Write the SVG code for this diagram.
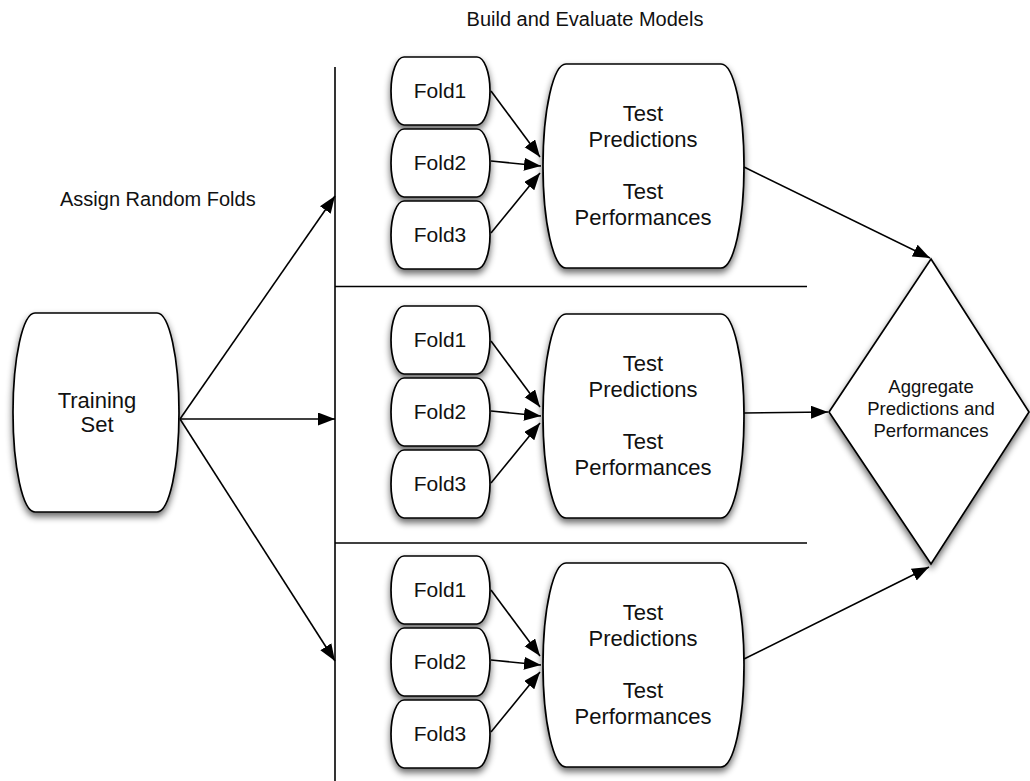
<svg xmlns="http://www.w3.org/2000/svg" width="1030" height="781" viewBox="0 0 1030 781">
  <defs>
    <filter id="sh" x="-20%" y="-20%" width="140%" height="140%">
      <feGaussianBlur in="SourceAlpha" stdDeviation="3.5"/>
      <feOffset dx="0" dy="4" result="b"/>
      <feComponentTransfer><feFuncA type="linear" slope="0.6"/></feComponentTransfer>
      <feMerge><feMergeNode/><feMergeNode in="SourceGraphic"/></feMerge>
    </filter>
    <marker id="ah" markerUnits="userSpaceOnUse" markerWidth="18" markerHeight="14" refX="17" refY="6.5" orient="auto">
      <path d="M0,0 L17,6.5 L0,13 Z" fill="#000"/>
    </marker>
    <style>
      .n { fill: #fff; stroke: #000; stroke-width: 1.7; filter: url(#sh); }
      .t { font-family: "Liberation Sans", Arial, Helvetica, sans-serif; fill: #111; text-anchor: middle; }
      .f { font-size: 21px; }
      .big { font-size: 22px; }
      .dm { font-size: 18.5px; }
      .lbl { font-family: "Liberation Sans", Arial, Helvetica, sans-serif; fill: #111; font-size: 20px; }
      .c { stroke: #000; stroke-width: 1.6; fill: none; marker-end: url(#ah); }
      .sep { stroke: #000; stroke-width: 1.6; fill: none; }
    </style>
  </defs>
  <rect width="1030" height="781" fill="#fff"/>

  <text class="lbl" x="585" y="26" text-anchor="middle">Build and Evaluate Models</text>
  <text class="lbl" x="60" y="206">Assign Random Folds</text>

  <g id="separators">
    <line class="sep" x1="335" y1="67" x2="335" y2="781"/>
    <line class="sep" x1="335" y1="286.5" x2="807" y2="286.5"/>
    <line class="sep" x1="335" y1="543" x2="807" y2="543"/>
  </g>

  <g id="training-set">
    <path class="n" d="M35,313 H157 A22,99.5 0 0 1 157,512 H35 A22,99.5 0 0 1 35,313 Z"/>
    <text class="t big" x="97" y="408">Training</text>
    <text class="t big" x="97" y="432">Set</text>
  </g>

  <!-- Group 1 -->
  <g id="g1-fold1">
    <path class="n" d="M404,57 H477 A13,34 0 0 1 477,125 H404 A13,34 0 0 1 404,57 Z"/>
    <text class="t f" x="440" y="98">Fold1</text>
  </g>
  <g id="g1-fold2">
    <path class="n" d="M404,129 H477 A13,34 0 0 1 477,197 H404 A13,34 0 0 1 404,129 Z"/>
    <text class="t f" x="440" y="170">Fold2</text>
  </g>
  <g id="g1-fold3">
    <path class="n" d="M404,201 H477 A13,34 0 0 1 477,269 H404 A13,34 0 0 1 404,201 Z"/>
    <text class="t f" x="440" y="242">Fold3</text>
  </g>
  <g id="g1-test">
    <path class="n" d="M566,64 H721 A23,102 0 0 1 721,268 H566 A23,102 0 0 1 566,64 Z"/>
    <text class="t big" x="643" y="121">Test</text>
    <text class="t big" x="643" y="147">Predictions</text>
    <text class="t big" x="643" y="199">Test</text>
    <text class="t big" x="643" y="225">Performances</text>
  </g>

  <!-- Group 2 -->
  <g id="g2-fold1">
    <path class="n" d="M404,306 H477 A13,34 0 0 1 477,374 H404 A13,34 0 0 1 404,306 Z"/>
    <text class="t f" x="440" y="347">Fold1</text>
  </g>
  <g id="g2-fold2">
    <path class="n" d="M404,378 H477 A13,34 0 0 1 477,446 H404 A13,34 0 0 1 404,378 Z"/>
    <text class="t f" x="440" y="419">Fold2</text>
  </g>
  <g id="g2-fold3">
    <path class="n" d="M404,450 H477 A13,34 0 0 1 477,518 H404 A13,34 0 0 1 404,450 Z"/>
    <text class="t f" x="440" y="491">Fold3</text>
  </g>
  <g id="g2-test">
    <path class="n" d="M566,314 H721 A23,102 0 0 1 721,518 H566 A23,102 0 0 1 566,314 Z"/>
    <text class="t big" x="643" y="371">Test</text>
    <text class="t big" x="643" y="397">Predictions</text>
    <text class="t big" x="643" y="449">Test</text>
    <text class="t big" x="643" y="475">Performances</text>
  </g>

  <!-- Group 3 -->
  <g id="g3-fold1">
    <path class="n" d="M404,556 H477 A13,34 0 0 1 477,624 H404 A13,34 0 0 1 404,556 Z"/>
    <text class="t f" x="440" y="597">Fold1</text>
  </g>
  <g id="g3-fold2">
    <path class="n" d="M404,628 H477 A13,34 0 0 1 477,696 H404 A13,34 0 0 1 404,628 Z"/>
    <text class="t f" x="440" y="669">Fold2</text>
  </g>
  <g id="g3-fold3">
    <path class="n" d="M404,700 H477 A13,34 0 0 1 477,768 H404 A13,34 0 0 1 404,700 Z"/>
    <text class="t f" x="440" y="741">Fold3</text>
  </g>
  <g id="g3-test">
    <path class="n" d="M566,563 H721 A23,102 0 0 1 721,767 H566 A23,102 0 0 1 566,563 Z"/>
    <text class="t big" x="643" y="620">Test</text>
    <text class="t big" x="643" y="646">Predictions</text>
    <text class="t big" x="643" y="698">Test</text>
    <text class="t big" x="643" y="724">Performances</text>
  </g>

  <g id="aggregate">
    <path class="n" d="M931,259 L1029,412 L931,564 L829,412 Z"/>
    <text class="t dm" x="931" y="393">Aggregate</text>
    <text class="t dm" x="931" y="415">Predictions and</text>
    <text class="t dm" x="931" y="437">Performances</text>
  </g>

  <g id="connectors">
    <line class="c" x1="180" y1="419" x2="335" y2="196"/>
    <line class="c" x1="180" y1="419" x2="335" y2="419"/>
    <line class="c" x1="180" y1="419" x2="335" y2="661"/>

    <line class="c" x1="491" y1="91" x2="540" y2="157"/>
    <line class="c" x1="491" y1="161" x2="541" y2="166"/>
    <line class="c" x1="491" y1="233" x2="540" y2="173"/>

    <line class="c" x1="491" y1="341" x2="540" y2="407"/>
    <line class="c" x1="491" y1="411" x2="541" y2="416"/>
    <line class="c" x1="491" y1="483" x2="540" y2="423"/>

    <line class="c" x1="491" y1="590" x2="540" y2="656"/>
    <line class="c" x1="491" y1="660" x2="541" y2="665"/>
    <line class="c" x1="491" y1="732" x2="540" y2="672"/>

    <line class="c" x1="744" y1="167" x2="930" y2="258"/>
    <line class="c" x1="744" y1="413" x2="828" y2="412"/>
    <line class="c" x1="744" y1="659" x2="929" y2="567"/>
  </g>
</svg>
